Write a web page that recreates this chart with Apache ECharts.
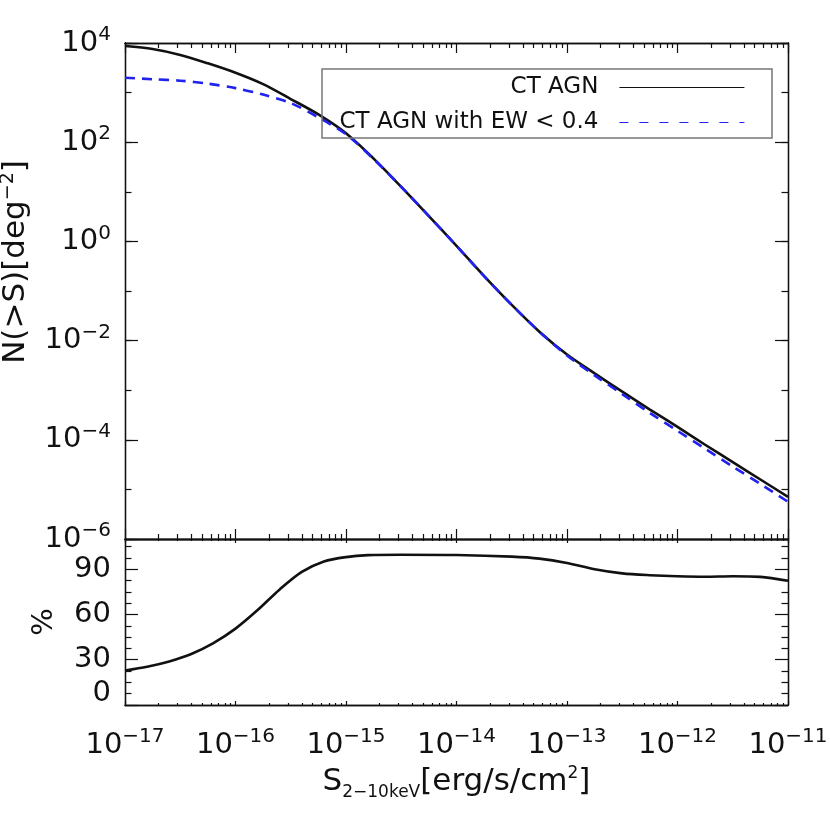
<!DOCTYPE html>
<html><head><meta charset="utf-8">
<script src="https://cdn.jsdelivr.net/npm/echarts@6/dist/echarts.min.js"></script>
<style>html,body{margin:0;padding:0;background:#fff}#c{width:830px;height:830px}</style>
</head><body><div id="c"></div>
<script>
// ---- data (log10 of flux in erg/s/cm^2, log10 of N(>S) in deg^-2) ----
const logFlux = [-17, -16.75, -16.5, -16.25, -16, -15.75, -15.5, -15.25, -15, -14.75, -14.5, -14.25, -14, -13.75, -13.5, -13.25, -13, -12.75, -12.5, -12.25, -12, -11.75, -11.5, -11.25, -11];
const logNAll = [3.94, 3.88, 3.76, 3.59, 3.40, 3.17, 2.87, 2.56, 2.18, 1.67, 1.10, 0.51, -0.09, -0.70, -1.28, -1.82, -2.28, -2.66, -3.03, -3.39, -3.74, -4.10, -4.45, -4.80, -5.15];
const logNEW  = [3.30, 3.27, 3.24, 3.18, 3.09, 2.96, 2.79, 2.50, 2.16, 1.66, 1.10, 0.51, -0.09, -0.70, -1.28, -1.82, -2.30, -2.70, -3.08, -3.46, -3.82, -4.18, -4.54, -4.89, -5.25];
const pctLogFlux = [-17, -16.8, -16.6, -16.4, -16.2, -16, -15.8, -15.6, -15.4, -15.2, -15, -14.8, -14.5, -14, -13.5, -13.25, -13, -12.75, -12.5, -12.25, -12, -11.75, -11.5, -11.25, -11];
const pctValues  = [22.9, 25.4, 28.9, 33.8, 41.0, 50.6, 62.9, 76.6, 88.2, 95.1, 98.0, 99.3, 99.6, 99.4, 98.3, 97.0, 94.1, 89.9, 87.2, 86.0, 85.3, 85.0, 85.3, 84.9, 82.3];
// ---- ticks ----
const xMajor = [1e-17, 1e-16, 1e-15, 1e-14, 1e-13, 1e-12, 1e-11];
const xMinor = [];
for (let e = -17; e < -11; e++) for (let m = 2; m <= 9; m++) xMinor.push(m * Math.pow(10, e));
const yTopLabels = [1e-6, 1e-4, 1e-2, 1, 1e2, 1e4];
const yTopMinor = [1e-6, 1e-5, 1e-4, 1e-3, 1e-2, 1e-1, 1, 1e1, 1e2, 1e3, 1e4];
const yBotLabels = [0, 30, 60, 90];
const yBotMinor = [7.5, 15, 22.5, 37.5, 45, 52.5, 67.5, 75, 82.5, 97.5, 105];

const FONT = 'DejaVu Sans';
const C = '#111';
const BLUE = '#2222ee';
const sup = v => { const e = Math.round(Math.log10(v)); return '{b|10}{s|' + (e < 0 ? '\u2212' : '') + Math.abs(e) + '}'; };
const powRich = {
  b: { fontSize: 29, fontFamily: FONT, color: C, lineHeight: 36 },
  s: { fontSize: 20, fontFamily: FONT, color: C, lineHeight: 20, padding: [0, 0, 16, 0] }
};
const lineAx = { show: true, onZero: false, lineStyle: { color: C, width: 1.3 } };

function ax(o) {
  return Object.assign({
    axisLine: lineAx,
    splitLine: { show: false },
    axisLabel: { show: false }
  }, o.extra || {}, {
    type: o.type, gridIndex: o.grid, position: o.pos, min: o.min, max: o.max,
    axisTick: { show: true, inside: true, length: o.len, customValues: o.ticks, lineStyle: { color: C, width: 1.2 } }
  });
}

const xLog = { type: 'log', min: 1e-17, max: 1e-11 };
const xAxes = [
  ax(Object.assign({ grid: 0, pos: 'bottom', len: 10, ticks: xMajor }, xLog)),
  ax(Object.assign({ grid: 0, pos: 'bottom', len: 5, ticks: xMinor }, xLog)),
  ax(Object.assign({ grid: 0, pos: 'top', len: 10, ticks: xMajor }, xLog)),
  ax(Object.assign({ grid: 0, pos: 'top', len: 5, ticks: xMinor }, xLog)),
  ax(Object.assign({ grid: 1, pos: 'bottom', len: 4, ticks: xMajor, extra: {
    axisLabel: { show: true, customValues: xMajor, margin: 22, formatter: sup, rich: powRich },
    name: '{m|S}{sub|2\u221210keV}{m|[erg/s/cm}{sp|2}{m|]}',
    nameLocation: 'middle', nameGap: 55,
    nameTextStyle: { rich: {
      m: { fontSize: 31, fontFamily: FONT, color: C, lineHeight: 40 },
      sub: { fontSize: 17, fontFamily: FONT, color: C, lineHeight: 20, padding: [20, 0, 0, 0] },
      sp: { fontSize: 17, fontFamily: FONT, color: C, lineHeight: 20, padding: [0, 0, 18, 0] }
    } }
  } }, xLog)),
  ax(Object.assign({ grid: 1, pos: 'bottom', len: 2, ticks: xMinor }, xLog)),
  ax(Object.assign({ grid: 1, pos: 'top', len: 4, ticks: xMajor }, xLog)),
  ax(Object.assign({ grid: 1, pos: 'top', len: 2, ticks: xMinor }, xLog))
];

const yLog = { type: 'log', min: 1e-6, max: 1e4 };
const yLin = { type: 'value', min: 0, max: 110 };
const yAxes = [
  ax(Object.assign({ grid: 0, pos: 'left', len: 13, ticks: yTopLabels, extra: {
    axisLabel: { show: true, customValues: yTopLabels, margin: 14, formatter: sup, rich: powRich },
    name: 'N(>S)[deg{sp|\u22122}]', nameLocation: 'middle', nameGap: 81,
    nameTextStyle: { fontSize: 31, fontFamily: FONT, color: C, padding: [0, 0, 0, 58], rich: {
      sp: { fontSize: 19, fontFamily: FONT, color: C, lineHeight: 20, padding: [0, 0, 16, 0] }
    } }
  } }, yLog)),
  ax(Object.assign({ grid: 0, pos: 'left', len: 6.5, ticks: yTopMinor }, yLog)),
  ax(Object.assign({ grid: 0, pos: 'right', len: 13, ticks: yTopLabels }, yLog)),
  ax(Object.assign({ grid: 0, pos: 'right', len: 6.5, ticks: yTopMinor }, yLog)),
  ax(Object.assign({ grid: 1, pos: 'left', len: 13, ticks: yBotLabels, extra: {
    axisLabel: { show: true, customValues: yBotLabels, margin: 14, fontSize: 29, fontFamily: FONT, color: C,
      formatter: v => v === 0 ? '{z|0}' : String(v),
      rich: { z: { fontSize: 29, fontFamily: FONT, color: C, padding: [0, 0, 24, 0] } } },
    name: '%', nameLocation: 'middle', nameGap: 66,
    nameTextStyle: { fontSize: 29, fontFamily: FONT, color: C }
  } }, yLin)),
  ax(Object.assign({ grid: 1, pos: 'left', len: 6.5, ticks: yBotMinor }, yLin)),
  ax(Object.assign({ grid: 1, pos: 'right', len: 13, ticks: yBotLabels }, yLin)),
  ax(Object.assign({ grid: 1, pos: 'right', len: 6.5, ticks: yBotMinor }, yLin))
];

const p10 = v => Math.pow(10, v);
const allData = logFlux.map((s, i) => [p10(s), p10(logNAll[i])]);
const ewData = logFlux.map((s, i) => [p10(s), p10(logNEW[i])]);
const pctData = pctLogFlux.map((s, i) => [p10(s), pctValues[i]]);

const legendText = { fontSize: 23, fontFamily: FONT, color: C, padding: [0, 16, 0, 0] };
const option = {
  animation: false,
  backgroundColor: '#fff',
  grid: [
    { left: 125, right: 42, top: 43, height: 496, outerBoundsMode: 'none', containLabel: false },
    { left: 125, right: 42, top: 539, height: 166, outerBoundsMode: 'none', containLabel: false }
  ],
  xAxis: xAxes,
  yAxis: yAxes,
  legend: [
    { data: ['CT AGN'], right: 85, top: 76, padding: 0, itemWidth: 125, itemHeight: 26, align: 'right',
      textStyle: legendText, itemStyle: { opacity: 0 }, lineStyle: { width: 1.2 } },
    { data: ['CT AGN with EW < 0.4'], right: 85, top: 111, padding: 0, itemWidth: 125, itemHeight: 26, align: 'right',
      textStyle: legendText, itemStyle: { opacity: 0 }, lineStyle: { width: 1.2, type: [9, 11] } }
  ],
  graphic: [
    { type: 'rect', shape: { x: 322, y: 69, width: 450, height: 69 }, style: { fill: 'none', stroke: '#777', lineWidth: 1.5 }, z: 10 }
  ],
  series: [
    { name: 'CT AGN', type: 'line', xAxisIndex: 0, yAxisIndex: 0, data: allData, symbol: 'none', smooth: 0.3,
      lineStyle: { color: C, width: 2.6 }, itemStyle: { color: C }, z: 2 },
    { name: 'CT AGN with EW < 0.4', type: 'line', xAxisIndex: 0, yAxisIndex: 0, data: ewData, symbol: 'none', smooth: 0.3,
      lineStyle: { color: BLUE, width: 2.6, type: [10, 7] }, itemStyle: { color: BLUE }, z: 3 },
    { name: 'fraction', type: 'line', xAxisIndex: 4, yAxisIndex: 4, data: pctData, symbol: 'none', smooth: 0.3,
      lineStyle: { color: C, width: 2.6 }, itemStyle: { color: C }, z: 2 }
  ]
};
const chart = echarts.init(document.getElementById('c'), null, { renderer: 'canvas' });
chart.setOption(option);
</script>
</body></html>
